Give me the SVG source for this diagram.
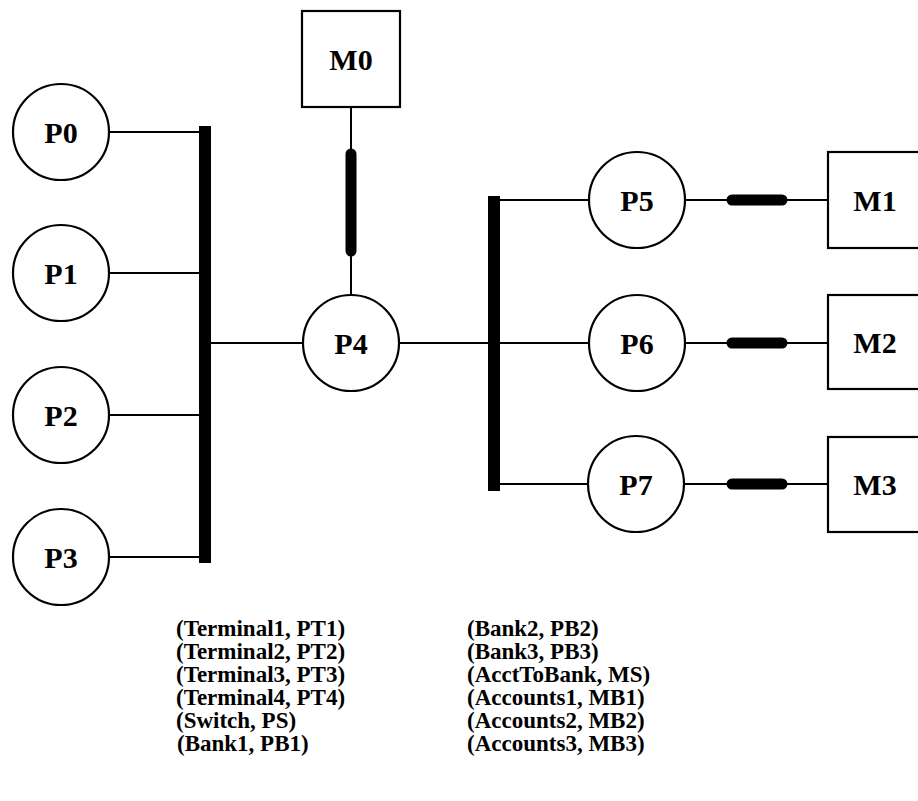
<svg xmlns="http://www.w3.org/2000/svg" width="918" height="801" viewBox="0 0 918 801">
  <style>
    .proc { fill: #fff; stroke: #000; stroke-width: 2.2; }
    .mem { fill: #fff; stroke: #000; stroke-width: 2.2; }
    .lbl { font-family: "Liberation Serif", "Times New Roman", serif; font-weight: bold; font-size: 30px; text-anchor: middle; dominant-baseline: central; fill: #000; }
    .wire { stroke: #000; stroke-width: 2; fill: none; }
    .bus { fill: #000; }
    .link { stroke: #000; stroke-width: 11; stroke-linecap: round; }
    .map { font-family: "Liberation Serif", "Times New Roman", serif; font-weight: bold; font-size: 23px; fill: #000; }
  </style>
  <rect width="918" height="801" fill="#fff"/>

  <!-- connectors -->
  <g id="connectors">
    <line class="wire" x1="110" y1="132" x2="205" y2="132"/>
    <line class="wire" x1="110" y1="273" x2="205" y2="273"/>
    <line class="wire" x1="110" y1="415" x2="205" y2="415"/>
    <line class="wire" x1="110" y1="557" x2="205" y2="557"/>
    <rect class="bus" x="199" y="126" width="12" height="437"/>
    <line class="wire" x1="205" y1="343" x2="303" y2="343"/>
    <line class="wire" x1="351" y1="107" x2="351" y2="295"/>
    <line class="link" x1="351" y1="154" x2="351" y2="251"/>
    <line class="wire" x1="399" y1="343" x2="494" y2="343"/>
    <rect class="bus" x="488" y="196" width="12" height="295"/>
    <line class="wire" x1="494" y1="200" x2="589" y2="200"/>
    <line class="wire" x1="494" y1="343" x2="589" y2="343"/>
    <line class="wire" x1="494" y1="484" x2="588" y2="484"/>
    <line class="wire" x1="685" y1="200" x2="828" y2="200"/>
    <line class="wire" x1="685" y1="343" x2="828" y2="343"/>
    <line class="wire" x1="685" y1="484" x2="828" y2="484"/>
    <line class="link" x1="732" y1="200" x2="782" y2="200"/>
    <line class="link" x1="732" y1="343" x2="782" y2="343"/>
    <line class="link" x1="732" y1="484" x2="782" y2="484"/>
  </g>

  <g id="P0"><circle class="proc" cx="61" cy="132" r="48"/><text class="lbl" x="61" y="132">P0</text></g>
  <g id="P1"><circle class="proc" cx="61" cy="273" r="48"/><text class="lbl" x="61" y="273">P1</text></g>
  <g id="P2"><circle class="proc" cx="61" cy="415" r="48"/><text class="lbl" x="61" y="415">P2</text></g>
  <g id="P3"><circle class="proc" cx="61" cy="557" r="48"/><text class="lbl" x="61" y="557">P3</text></g>
  <g id="P4"><circle class="proc" cx="351" cy="343" r="48"/><text class="lbl" x="351" y="343">P4</text></g>
  <g id="P5"><circle class="proc" cx="637" cy="200" r="48"/><text class="lbl" x="637" y="200">P5</text></g>
  <g id="P6"><circle class="proc" cx="637" cy="343" r="48"/><text class="lbl" x="637" y="343">P6</text></g>
  <g id="P7"><circle class="proc" cx="636" cy="484" r="48"/><text class="lbl" x="636" y="484">P7</text></g>

  <g id="M0"><rect class="mem" x="302" y="11" width="98" height="96"/><text class="lbl" x="351" y="59">M0</text></g>
  <g id="M1"><rect class="mem" x="828" y="152" width="100" height="96"/><text class="lbl" x="875" y="200">M1</text></g>
  <g id="M2"><rect class="mem" x="828" y="295" width="100" height="94"/><text class="lbl" x="875" y="342">M2</text></g>
  <g id="M3"><rect class="mem" x="828" y="437" width="100" height="95"/><text class="lbl" x="875" y="484">M3</text></g>

  <!-- name / process mapping -->
  <g id="mapping-left" class="map">
    <text x="176" y="636">(Terminal1, PT1)</text>
    <text x="176" y="659">(Terminal2, PT2)</text>
    <text x="176" y="682">(Terminal3, PT3)</text>
    <text x="176" y="705">(Terminal4, PT4)</text>
    <text x="176" y="728">(Switch, PS)</text>
    <text x="177" y="751">(Bank1, PB1)</text>
  </g>
  <g id="mapping-right" class="map">
    <text x="467" y="636">(Bank2, PB2)</text>
    <text x="467" y="659">(Bank3, PB3)</text>
    <text x="467" y="682">(AcctToBank, MS)</text>
    <text x="467" y="705">(Accounts1, MB1)</text>
    <text x="467" y="728">(Accounts2, MB2)</text>
    <text x="467" y="751">(Accounts3, MB3)</text>
  </g>
</svg>
